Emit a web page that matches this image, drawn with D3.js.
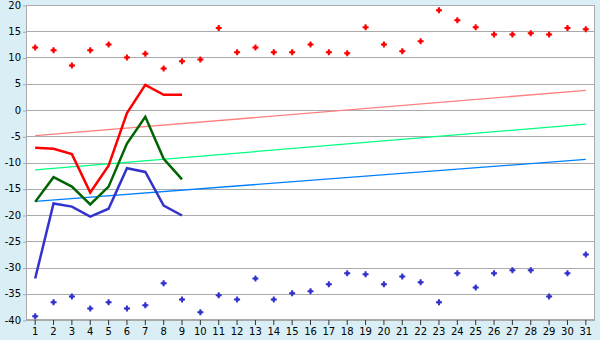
<!DOCTYPE html>
<html><head><meta charset="utf-8">
<script src="https://cdn.jsdelivr.net/npm/d3@7"></script>
<style>body{margin:0;background:#d9eef5;}svg{display:block;}</style>
</head><body>
<svg id="c" width="600" height="340"></svg>
<script>
const days = d3.range(1, 32).map(String);
const yTicks = [-40,-35,-30,-25,-20,-15,-10,-5,0,5,10,15,20];
const maxRecord = [11.9,11.4,8.5,11.4,12.5,10.0,10.7,7.9,9.3,9.6,15.6,11.0,11.9,11.0,11.0,12.5,11.0,10.8,15.75,12.5,11.2,13.1,19.0,17.1,15.75,14.4,14.4,14.6,14.4,15.6,15.4];
const minRecord = [-39.3,-36.6,-35.5,-37.8,-36.6,-37.8,-37.2,-33.0,-36.1,-38.5,-35.3,-36.1,-32.1,-36.1,-34.9,-34.5,-33.2,-31.1,-31.3,-33.2,-31.7,-32.8,-36.6,-31.1,-33.8,-31.1,-30.5,-30.5,-35.5,-31.1,-27.5];
const maxTemp = [-7.2,-7.4,-8.4,-15.7,-10.6,-0.6,4.8,2.9,2.9];
const meanTemp = [-17.5,-12.8,-14.6,-18.0,-14.6,-6.4,-1.3,-9.3,-13.2];
const minTemp = [-32.1,-17.8,-18.4,-20.3,-18.8,-11.1,-11.8,-18.2,-20.1];
const maxNormal = [-4.9, 3.75];
const meanNormal = [-11.4, -2.7];
const minNormal = [-17.4, -9.4];

const svg = d3.select("#c");
const L = 26, R = 595, T = 5, B = 320;
const x = d3.scaleBand().domain(days).range([L, R]);
const cx = d => x(d) + x.bandwidth()/2;
const y = d3.scaleLinear().domain([-40, 20]).range([B, T]);

svg.append("rect").attr("x", L).attr("y", T).attr("width", R-L).attr("height", B-T).attr("fill", "#fff");

// grid
svg.append("g").selectAll("line").data(yTicks).join("line")
  .attr("x1", L).attr("x2", R).attr("y1", d => Math.round(y(d))+0.5).attr("y2", d => Math.round(y(d))+0.5)
  .attr("stroke", "#aaaaaa").attr("stroke-width", 1);

// y axis
const ya = svg.append("g").attr("transform", `translate(${L},0)`)
  .call(d3.axisLeft(y).tickValues(yTicks).tickSize(3).tickPadding(2).tickFormat(d => String(d)));
ya.select(".domain").remove();
ya.selectAll("line").attr("stroke", "#aaaaaa").attr("transform", "translate(0,0.5)");
ya.selectAll("text").attr("font-family", "DejaVu Sans").attr("font-size", 10).attr("fill", "#000");

// x axis
const xa = svg.append("g").attr("transform", `translate(0,${B})`)
  .call(d3.axisBottom(x).tickSize(5).tickPadding(3));
xa.select(".domain").remove();
xa.selectAll("line").attr("stroke", "#333");
xa.selectAll("text").attr("font-family", "DejaVu Sans").attr("font-size", 10).attr("fill", "#000");

// border
svg.append("rect").attr("x", L+0.5).attr("y", T+0.5).attr("width", R-L-1).attr("height", B-T-1)
  .attr("fill", "none").attr("stroke", "#aaaaaa");

// trend lines
const trend = [[maxNormal, "#ff8080"], [meanNormal, "#00ff80"], [minNormal, "#0080ff"]];
trend.forEach(([v, c]) => {
  svg.append("line").attr("x1", cx(days[0])).attr("x2", cx(days[30]))
    .attr("y1", y(v[0])).attr("y2", y(v[1])).attr("stroke", c).attr("stroke-width", 1.3);
});

// lines
const line = d3.line().x((d,i) => cx(days[i])).y(d => y(d));
[[maxTemp, "#ff0000"], [meanTemp, "#006400"], [minTemp, "#3333cc"]].forEach(([v, c]) => {
  svg.append("path").attr("d", line(v)).attr("fill", "none").attr("stroke", c).attr("stroke-width", 2.5);
});

// record markers
const sym = d3.symbol().type(d3.symbolCross).size(20);
[[maxRecord, "#ff0000"], [minRecord, "#3333cc"]].forEach(([v, c]) => {
  const g = svg.append("g").selectAll("g").data(v).join("g")
    .attr("transform", (d,i) => `translate(${cx(days[i])},${y(d)})`);
  g.append("path").attr("d", sym).attr("fill", c);
  g.append("rect").attr("x", -1.5).attr("y", -1.5).attr("width", 3).attr("height", 3).attr("fill", c);
});
</script>
</body></html>
